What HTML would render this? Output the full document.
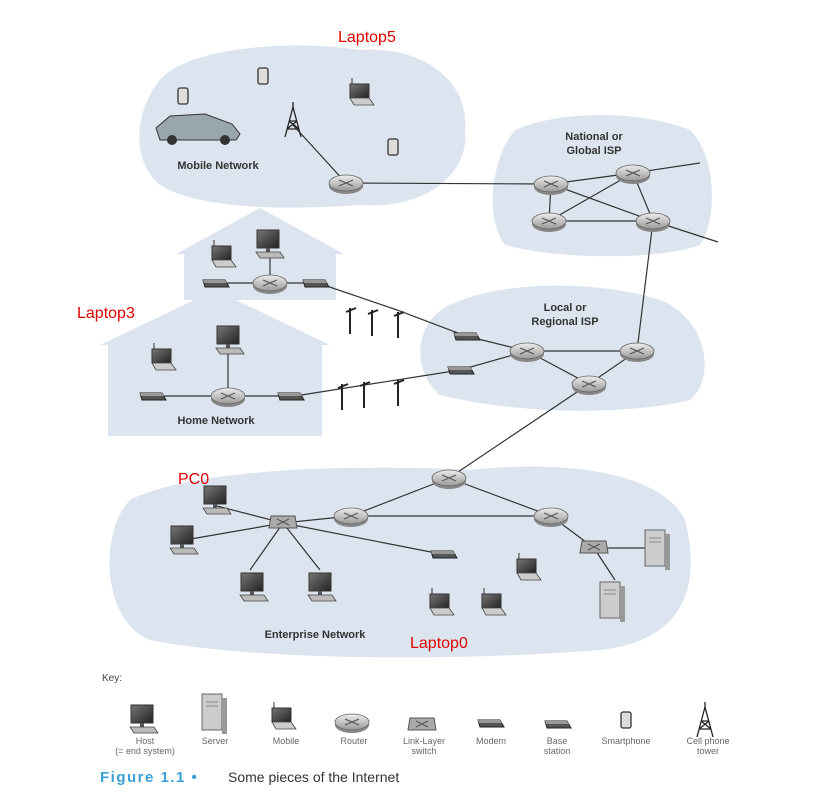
<!DOCTYPE html>
<html><head><meta charset="utf-8"><style>
html,body{margin:0;padding:0;background:#fff}
svg{display:block}
.lbl{font-family:"Liberation Sans",sans-serif;font-weight:bold;font-size:11px;fill:#333}
.red{font-family:"Liberation Sans",sans-serif;font-size:16px;fill:#e00000}
.key{font-family:"Liberation Sans",sans-serif;font-size:9px;fill:#666}
</style></head><body>
<svg width="837" height="812" viewBox="0 0 837 812" xmlns="http://www.w3.org/2000/svg">
<defs>
<linearGradient id="rg" x1="0" y1="0" x2="0" y2="1"><stop offset="0" stop-color="#eee"/><stop offset="1" stop-color="#999"/></linearGradient>
<linearGradient id="sg" x1="0" y1="0" x2="1" y2="1"><stop offset="0" stop-color="#777"/><stop offset="1" stop-color="#222"/></linearGradient>
<g id="router"><ellipse cx="0" cy="3" rx="17" ry="8" fill="#888"/><ellipse cx="0" cy="0" rx="17" ry="8" fill="url(#rg)" stroke="#666" stroke-width="0.8"/><path d="M-7,-3 L7,3 M-7,3 L7,-3" stroke="#555" stroke-width="1.2"/></g>
<g id="pc"><rect x="-11" y="-22" width="22" height="18" fill="url(#sg)" stroke="#333"/><rect x="-2" y="-4" width="4" height="4" fill="#555"/><path d="M-12,0 L12,0 L16,6 L-8,6 Z" fill="#bbb" stroke="#444" stroke-width="0.8"/></g>
<g id="lap"><rect x="-10" y="-16" width="19" height="14" fill="url(#sg)" stroke="#333"/><path d="M-10,-2 L9,-2 L14,5 L-6,5 Z" fill="#ccc" stroke="#444" stroke-width="0.8"/><path d="M-8,-16 v-6" stroke="#333"/></g>
<g id="modem"><path d="M-12,-3 L10,-3 L14,4 L-10,4 Z" fill="#555" stroke="#222"/><path d="M-12,-3 L10,-3 L12,0 L-11,0 Z" fill="#999"/></g>
<g id="sw"><path d="M-12,-7 L12,-7 L14,5 L-14,5 Z" fill="#aaa" stroke="#555"/><path d="M-6,-4 L6,2 M-6,2 L6,-4" stroke="#555"/></g>
<g id="srv"><rect x="-10" y="-18" width="20" height="36" fill="#ccc" stroke="#666"/><rect x="10" y="-14" width="5" height="36" fill="#999"/><path d="M-6,-10 h12 M-6,-6 h12" stroke="#888"/></g>
<g id="phone"><rect x="-5" y="-8" width="10" height="16" rx="2" fill="#ddd" stroke="#333" stroke-width="1.3"/></g>
<g id="tower"><path d="M0,-18 L-8,12 M0,-18 L8,12 M-6,4 L6,4 M-4,-4 L4,-4 M-6,4 L4,-4 M6,4 L-4,-4 M0,-18 v-5" stroke="#222" stroke-width="1.3" fill="none"/></g>
<g id="pole"><path d="M0,0 v26 M-4,4 L6,0" stroke="#222" stroke-width="2"/></g>
</defs>
<path d="M160,80 C190,45 300,40 360,50 C420,45 470,80 465,130 C470,170 430,210 360,205 C290,210 200,210 160,185 C130,160 135,110 160,80Z" fill="#dce5ef"/>
<path d="M515,130 C560,110 640,110 690,130 C720,160 715,225 700,245 C660,260 560,260 505,245 C485,220 490,160 515,130Z" fill="#dce5ef"/>
<path d="M450,305 C500,280 600,280 660,300 C710,320 715,380 690,400 C630,415 520,415 440,395 C410,370 415,320 450,305Z" fill="#dce5ef"/>
<path d="M130,500 C200,465 380,465 470,470 C560,460 660,470 685,520 C700,580 690,640 600,650 C450,662 250,660 150,640 C100,620 100,530 130,500Z" fill="#dce5ef"/>
<path d="M176,254 L260,208 L344,254 L336,254 L336,300 L184,300 L184,254Z" fill="#dce5ef"/>
<path d="M100,345 L215,290 L330,345 L322,345 L322,436 L108,436 L108,345Z" fill="#dce5ef"/>
<g stroke="#333" stroke-width="1.2" fill="none">
<path d="M293,125 L346,183 L551,184 L633,173 L700,163"/>
<path d="M551,184 L549,221 L653,221 L633,173 M551,184 L653,221 L718,242 M549,221 L633,173"/>
<path d="M653,221 L637,351 L527,351 L466,336 L397,310 L318,283 L270,283 L215,283 M270,283 v-30"/>
<path d="M527,351 L589,384 L637,351 M527,351 L460,370 L295,396 L228,396 L150,396 M228,396 v-45"/>
<path d="M589,384 L449,478 L351,516 L551,516 L449,478 M351,516 L283,523 L213,505 M283,523 L185,540 M283,523 L250,570 M283,523 L320,570 M283,523 L441,554 M551,516 L594,548 L655,548 M594,548 L615,580"/>
</g>
<use href="#pole" x="350" y="308"/><use href="#pole" x="372" y="310"/><use href="#pole" x="398" y="312"/>
<use href="#pole" x="342" y="384"/><use href="#pole" x="364" y="382"/><use href="#pole" x="398" y="380"/>
<use href="#router" x="346" y="183"/><use href="#router" x="551" y="184"/><use href="#router" x="633" y="173"/><use href="#router" x="549" y="221"/><use href="#router" x="653" y="221"/>
<use href="#router" x="527" y="351"/><use href="#router" x="637" y="351"/><use href="#router" x="589" y="384"/>
<use href="#router" x="449" y="478"/><use href="#router" x="351" y="516"/><use href="#router" x="551" y="516"/>
<use href="#router" x="270" y="283"/><use href="#router" x="228" y="396"/>
<use href="#modem" x="466" y="336"/><use href="#modem" x="460" y="370"/><use href="#modem" x="315" y="283"/><use href="#modem" x="290" y="396"/>
<use href="#modem" x="215" y="283"/><use href="#modem" x="152" y="396"/><use href="#modem" x="443" y="554"/>
<use href="#sw" x="283" y="523"/><use href="#sw" x="594" y="548"/>
<use href="#phone" x="183" y="96"/><use href="#phone" x="263" y="76"/><use href="#phone" x="393" y="147"/>
<use href="#tower" x="293" y="125"/><use href="#lap" x="360" y="100"/>
<path d="M156,128 L170,116 L205,114 L232,124 L240,134 L236,140 L160,140 Z" fill="#9aa6ad" stroke="#333"/><circle cx="172" cy="140" r="5" fill="#333"/><circle cx="225" cy="140" r="5" fill="#333"/>
<use href="#lap" x="222" y="262"/><use href="#pc" x="268" y="252"/>
<use href="#lap" x="162" y="365"/><use href="#pc" x="228" y="348"/>
<use href="#pc" x="215" y="508"/><use href="#pc" x="182" y="548"/><use href="#pc" x="252" y="595"/><use href="#pc" x="320" y="595"/>
<use href="#lap" x="440" y="610"/><use href="#lap" x="492" y="610"/><use href="#lap" x="527" y="575"/>
<use href="#srv" x="655" y="548"/><use href="#srv" x="610" y="600"/>
<text class="lbl" x="218" y="169" text-anchor="middle">Mobile Network</text>
<text class="lbl" x="594" y="140" text-anchor="middle">National or</text><text class="lbl" x="594" y="154" text-anchor="middle">Global ISP</text>
<text class="lbl" x="565" y="311" text-anchor="middle">Local or</text><text class="lbl" x="565" y="325" text-anchor="middle">Regional ISP</text>
<text class="lbl" x="216" y="424" text-anchor="middle">Home Network</text>
<text class="lbl" x="315" y="638" text-anchor="middle">Enterprise Network</text>
<text class="red" x="338" y="42">Laptop5</text><text class="red" x="77" y="318">Laptop3</text>
<text class="red" x="178" y="484">PC0</text><text class="red" x="410" y="648">Laptop0</text>
<text class="key" x="102" y="681" style="font-size:10px;fill:#444">Key:</text>
<use href="#pc" x="142" y="727"/><use href="#srv" x="212" y="712"/><use href="#lap" x="282" y="724"/><use href="#router" x="352" y="722"/>
<use href="#sw" x="422" y="725"/><use href="#modem" x="490" y="723"/><use href="#modem" x="557" y="724"/><use href="#phone" x="626" y="720"/><use href="#tower" x="705" y="725"/>
<g class="key" text-anchor="middle">
<text x="145" y="744">Host</text><text x="145" y="754">(= end system)</text>
<text x="215" y="744">Server</text><text x="286" y="744">Mobile</text><text x="354" y="744">Router</text>
<text x="424" y="744">Link-Layer</text><text x="424" y="754">switch</text><text x="491" y="744">Modem</text>
<text x="557" y="744">Base</text><text x="557" y="754">station</text><text x="626" y="744">Smartphone</text>
<text x="708" y="744">Cell phone</text><text x="708" y="754">tower</text>
</g>
<text x="100" y="782" style="font-family:'Liberation Sans',sans-serif;font-size:15px;font-weight:bold;fill:#3aa0d8;letter-spacing:1.5px">Figure 1.1 •</text>
<text x="228" y="782" style="font-family:'Liberation Sans',sans-serif;font-size:14px;fill:#333">Some pieces of the Internet</text>
</svg>
</body></html>
